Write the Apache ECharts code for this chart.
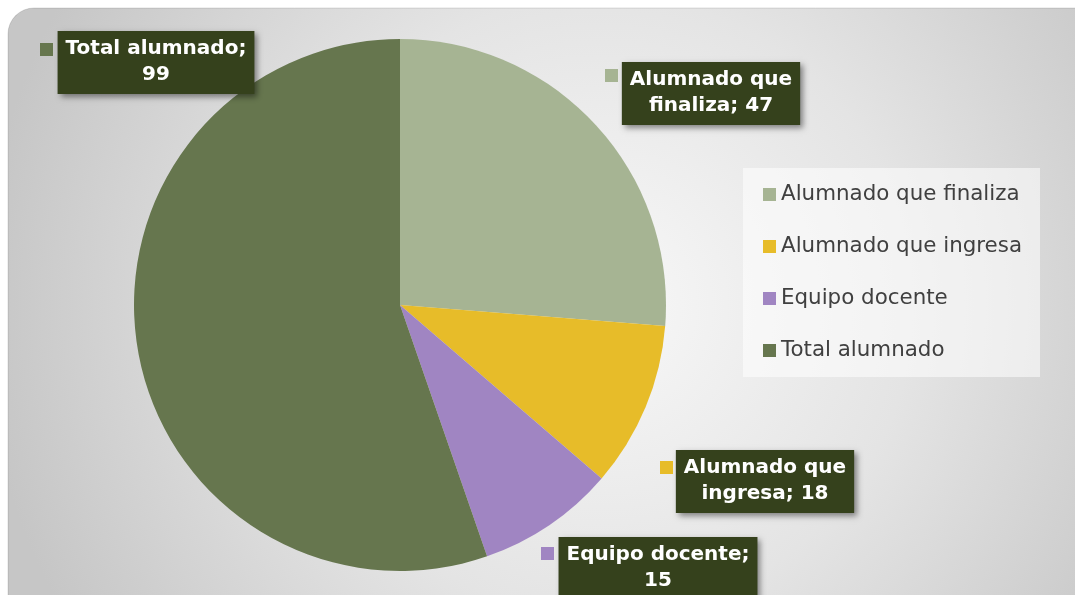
<!DOCTYPE html>
<html>
<head>
<meta charset="utf-8">
<script src="https://cdn.jsdelivr.net/npm/echarts@6/dist/echarts.min.js"></script>
<style>
  html, body { margin: 0; padding: 0; background: #ffffff; }
  #chart { width: 1075px; height: 595px; }
</style>
</head>
<body>
<div id="chart"></div>
<script>
// datos
var categories = ['Alumnado que finaliza', 'Alumnado que ingresa', 'Equipo docente', 'Total alumnado'];
var values = [47, 18, 15, 99];
var colors = ['#a6b493', '#e7bc29', '#a085c2', '#66764e'];

// posicion de las etiquetas (centro de la caja, borde superior) y de sus marcadores
var boxPos = [[711, 62], [765, 450], [658, 537], [156, 31]];
var markerPos = [[605, 69], [660, 461], [541, 547], [40, 43]];

var chart = echarts.init(document.getElementById('chart'));

var mainData = categories.map(function (name, i) {
    return { name: name, value: values[i], itemStyle: { color: colors[i] } };
});
var markerData = categories.map(function (name, i) {
    return {
        name: name,
        value: values[i],
        label: { rich: { m: { backgroundColor: colors[i] } } }
    };
});

var option = {
    animation: false,
    graphic: [{
        type: 'rect',
        z: -10,
        silent: true,
        shape: { x: 8, y: 8, width: 1100, height: 620, r: 26 },
        style: {
            fill: {
                type: 'radial', x: 0.54, y: 0.48, r: 1,
                colorStops: [
                    { offset: 0, color: '#f8f8f8' },
                    { offset: 0.5, color: '#e4e4e4' },
                    { offset: 0.8, color: '#d2d2d2' },
                    { offset: 1, color: '#c6c6c6' }
                ]
            },
            stroke: 'rgba(0,0,0,0.12)',
            lineWidth: 1
        }
    }],
    legend: {
        orient: 'vertical',
        left: 743,
        top: 168,
        data: categories,
        icon: 'rect',
        itemWidth: 13,
        itemHeight: 13,
        itemGap: 31,
        padding: [16, 18, 16, 20],
        backgroundColor: 'rgba(255,255,255,0.55)',
        selectedMode: false,
        textStyle: { fontFamily: 'DejaVu Sans', fontSize: 21.4, color: '#404040' }
    },
    series: [
        {
            name: 'datos',
            type: 'pie',
            center: [400, 305],
            radius: 266,
            startAngle: 90,
            clockwise: true,
            avoidLabelOverlap: false,
            emphasis: { disabled: true },
            labelLine: { show: false },
            label: {
                show: true,
                position: 'outside',
                fontFamily: 'DejaVu Sans',
                fontWeight: 'bold',
                fontSize: 20,
                lineHeight: 26,
                color: '#ffffff',
                backgroundColor: '#35411c',
                padding: [5, 8, 6, 8],
                shadowColor: 'rgba(0,0,0,0.45)',
                shadowBlur: 6,
                shadowOffsetX: 3,
                shadowOffsetY: 3,
                formatter: function (p) {
                    var words = (p.name + '; ' + p.value).split(' ');
                    return words.slice(0, 2).join(' ') + '\n' + words.slice(2).join(' ');
                }
            },
            labelLayout: function (p) {
                var pos = boxPos[p.dataIndex];
                return { x: pos[0], y: pos[1], align: 'center', verticalAlign: 'top' };
            },
            data: mainData
        },
        {
            name: 'marcadores',
            type: 'pie',
            center: [400, 305],
            radius: 266,
            startAngle: 90,
            silent: true,
            avoidLabelOverlap: false,
            itemStyle: { color: 'rgba(0,0,0,0)' },
            emphasis: { disabled: true },
            labelLine: { show: false },
            label: {
                show: true,
                position: 'outside',
                formatter: '{m| }',
                rich: { m: { width: 13, height: 13, fontSize: 1, lineHeight: 13 } }
            },
            labelLayout: function (p) {
                var pos = markerPos[p.dataIndex];
                return { x: pos[0], y: pos[1], align: 'left', verticalAlign: 'top' };
            },
            data: markerData
        }
    ]
};

chart.setOption(option);
</script>
</body>
</html>
